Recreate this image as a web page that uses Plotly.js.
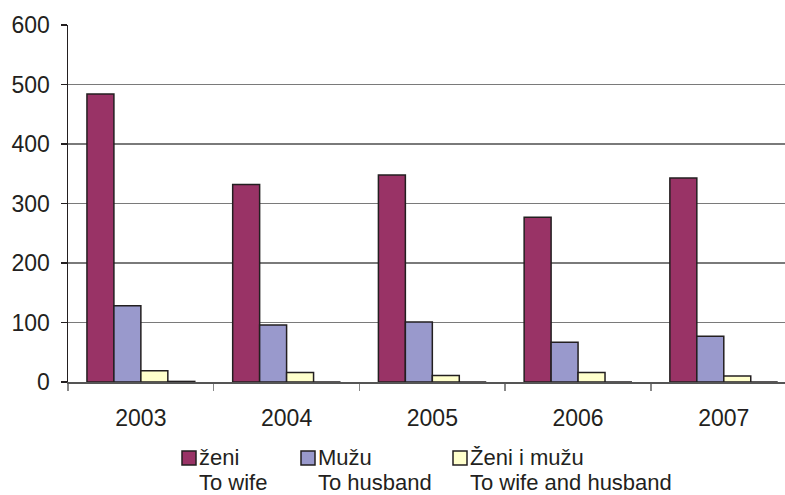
<!DOCTYPE html>
<html>
<head>
<meta charset="utf-8">
<script src="https://cdn.plot.ly/plotly-3.0.1.min.js"></script>
<style>html,body{margin:0;padding:0;background:#fff;}#chart{width:785px;height:495px;}</style>
</head>
<body>
<div id="chart"></div>
<script>
const years = ["2003", "2004", "2005", "2006", "2007"];
const toWife = [484, 332, 348, 277, 343];
const toHusband = [128, 96, 101, 67, 77];
const toBoth = [19, 16, 11, 16, 10];
const other = [1, 0, 0, 0, 0];
const seriesLine1 = ["ženi", "Mužu", "Ženi i mužu"];
const seriesLine2 = ["To wife", "To husband", "To wife and husband"];
const seriesColors = ["#993366", "#9999cc", "#ffffcc"];
const yTicks = [0, 100, 200, 300, 400, 500, 600];

const W = 785, H = 495, ML = 68, MR = 0, MT = 25, MB = 113;
const PW = W - ML - MR, PH = H - MT - MB;
const px2x = p => (p - ML) / PW;
const py2y = p => (H - MB - p) / PH;

const line = {color: "#231f20", width: 1.5};
const traces = [
  {type: "bar", x: years, y: toWife, name: seriesLine1[0] + " " + seriesLine2[0], marker: {color: seriesColors[0], line: line}},
  {type: "bar", x: years, y: toHusband, name: seriesLine1[1] + " " + seriesLine2[1], marker: {color: seriesColors[1], line: line}},
  {type: "bar", x: years, y: toBoth, name: seriesLine1[2] + " " + seriesLine2[2], marker: {color: seriesColors[2], line: line}},
  {type: "bar", x: years, y: other, name: "", marker: {color: "#ffffff", line: line}}
];

// custom two-line legend (legend layout only, not data)
const legendMarkerLeft = [182, 301, 453];
const shapes = [], annotations = [];
seriesLine1.forEach((t, i) => {
  const x0 = legendMarkerLeft[i];
  shapes.push({type: "rect", xref: "paper", yref: "paper",
    x0: px2x(x0), x1: px2x(x0 + 14), y0: py2y(451), y1: py2y(465),
    fillcolor: seriesColors[i], line: {color: "#231f20", width: 1.5}});
  annotations.push({xref: "paper", yref: "paper", x: px2x(x0 + 16), y: py2y(457),
    xanchor: "left", yanchor: "middle", text: t, showarrow: false, borderpad: 0, height: 22,
    font: {size: 22, color: "#231f20"}});
  annotations.push({xref: "paper", yref: "paper", x: px2x(x0 + 16), y: py2y(482),
    xanchor: "left", yanchor: "middle", text: seriesLine2[i], showarrow: false, borderpad: 0, height: 22,
    font: {size: 22, color: "#231f20"}});
});

const layout = {
  width: W, height: H,
  margin: {l: ML, r: MR, t: MT, b: MB},
  paper_bgcolor: "#ffffff", plot_bgcolor: "#ffffff",
  font: {family: "Liberation Sans, Arial, sans-serif", size: 23, color: "#231f20"},
  barmode: "group", bargap: 0.26, bargroupgap: 0,
  showlegend: false,
  hovermode: false,
  xaxis: {
    type: "category", range: [-0.5, 4.42],
    showline: true, linecolor: "#555555", linewidth: 1.5,
    ticks: "outside", tickson: "boundaries", ticklen: 7, tickcolor: "#888888", tickwidth: 1.5,
    ticklabelstandoff: 15, tickfont: {size: 23},
    showgrid: false, zeroline: false
  },
  yaxis: {
    range: [0, 600], tickvals: yTicks, ticktext: yTicks.map(String),
    showline: true, linecolor: "#231f20", linewidth: 1.5,
    ticks: "outside", ticklen: 6, tickcolor: "#231f20", tickwidth: 1.5,
    ticklabelstandoff: 6, tickfont: {size: 23},
    showgrid: true, gridcolor: "#7a7a7a", gridwidth: 1.5,
    zeroline: false
  },
  shapes: shapes,
  annotations: annotations
};

Plotly.newPlot("chart", traces, layout, {staticPlot: true, displayModeBar: false});
</script>
</body>
</html>
